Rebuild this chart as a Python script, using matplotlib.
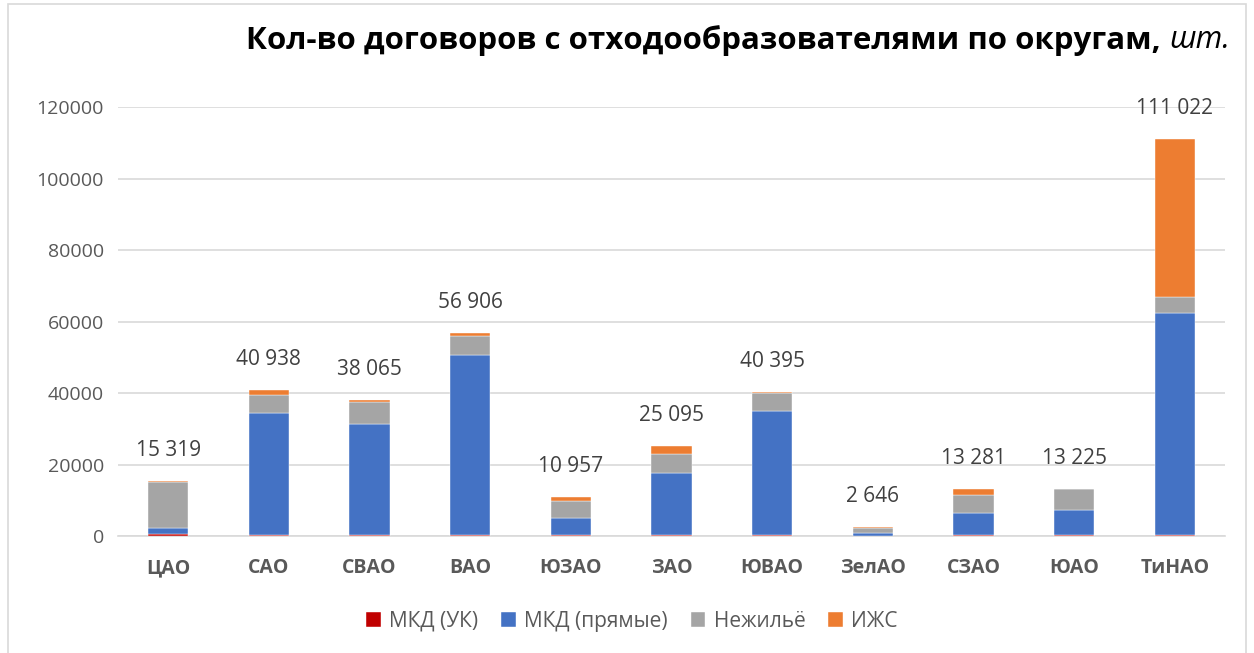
import matplotlib.pyplot as plt
import numpy as np
from matplotlib.patches import Rectangle

plt.rcParams['font.family'] = ['Open Sans', 'DejaVu Sans']

# Datos por okrug
okruga = ['ЦАО', 'САО', 'СВАО', 'ВАО', 'ЮЗАО', 'ЗАО', 'ЮВАО', 'ЗелАО', 'СЗАО', 'ЮАО', 'ТиНАО']
mkd_uk = [500, 300, 300, 300, 400, 400, 300, 100, 300, 300, 300]
mkd_pryamye = [1900, 34100, 31100, 50300, 4700, 17300, 34750, 750, 6200, 7060, 62000]
nezhilye = [12719, 5000, 6100, 5300, 4600, 5200, 5050, 1300, 4900, 5790, 4640]
izhs = [200, 1538, 565, 1006, 1257, 2195, 295, 496, 1881, 75, 44082]
totales = [15319, 40938, 38065, 56906, 10957, 25095, 40395, 2646, 13281, 13225, 111022]

series = [
    ('МКД (УК)', mkd_uk, '#C00000'),
    ('МКД (прямые)', mkd_pryamye, '#4472C4'),
    ('Нежильё', nezhilye, '#A5A5A5'),
    ('ИЖС', izhs, '#ED7D31'),
]

fig = plt.figure(figsize=(12.54, 6.53), dpi=100)
ax = fig.add_axes([0.094, 0.179, 0.883, 0.657])

x = np.arange(len(okruga))
base = np.zeros(len(okruga))
for nombre, valores, color in series:
    ax.bar(x, valores, bottom=base, width=0.4, color=color, label=nombre,
           edgecolor='white', linewidth=0.3, zorder=3)
    base += np.array(valores)

# Etiquetas de totales
for xi, total in zip(x, totales):
    ax.annotate(f'{total:,}'.replace(',', ' '), (xi, total), xytext=(0, 22),
                textcoords='offset points', ha='center', va='center',
                fontsize=15, color='#404040')

ax.set_xlim(-0.5, len(okruga) - 0.5)
ax.set_ylim(0, 120000)
ax.set_yticks(np.arange(0, 120001, 20000))
ax.set_xticks(x)
ax.set_xticklabels(okruga, fontsize=14, fontweight='bold', color='#595959')
ax.tick_params(axis='y', labelsize=14, labelcolor='#595959', length=0, pad=10)
ax.tick_params(axis='x', length=0, pad=16)
ax.grid(True, axis='y', color='#D9D9D9', linewidth=1.2, zorder=0)
for lado in ['top', 'right', 'left']:
    ax.spines[lado].set_visible(False)
ax.spines['bottom'].set_color('#D9D9D9')
ax.spines['bottom'].set_linewidth(1.2)

# Título: parte en negrita + "шт." en cursiva
t_it = fig.text(0.981, 0.938, 'шт.', ha='right', va='center', fontsize=22,
                fontstyle='italic', color='black')
fig.canvas.draw()
bb = t_it.get_window_extent()
x_izq = fig.transFigure.inverted().transform((bb.x0, bb.y0))[0]
fig.text(x_izq, 0.938, 'Кол-во договоров с отходообразователями по округам, ',
         ha='right', va='center', fontsize=22.5, fontweight='bold', color='black')

leg = fig.legend(loc='center', bbox_to_anchor=(0.504, 0.049), ncol=4, frameon=False,
                 fontsize=15, handlelength=0.7, handleheight=0.7, columnspacing=1.1,
                 handletextpad=0.4)
for t in leg.get_texts():
    t.set_color('#595959')

fig.patches.append(Rectangle((0.006, -0.01), 0.988, 1.004, transform=fig.transFigure,
                             fill=False, edgecolor='#D9D9D9', linewidth=1.2))

plt.savefig('out.png', dpi=100)
